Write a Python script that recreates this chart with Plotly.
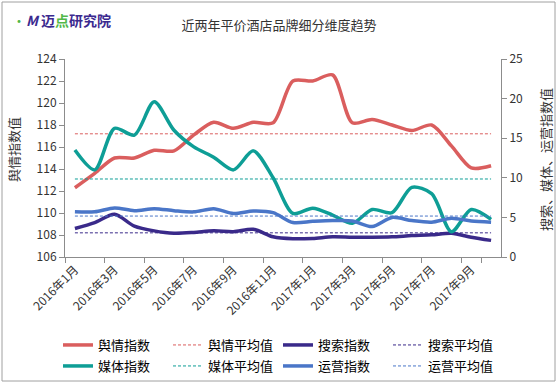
import plotly.graph_objects as go

# ---------------- data ----------------
months = ["2016年1月", "2016年2月", "2016年3月", "2016年4月", "2016年5月", "2016年6月",
          "2016年7月", "2016年8月", "2016年9月", "2016年10月", "2016年11月", "2016年12月",
          "2017年1月", "2017年2月", "2017年3月", "2017年4月", "2017年5月", "2017年6月",
          "2017年7月", "2017年8月", "2017年9月", "2017年10月"]

yuqing = [112.3, 113.6, 115.0, 115.0, 115.7, 115.65, 117.1, 118.25, 117.7, 118.25, 118.2,
          122.0, 122.0, 122.55, 118.2, 118.5, 118.0, 117.5, 118.0, 116.1, 114.1, 114.3]
meiti = [13.5, 11.0, 16.25, 15.4, 19.6, 16.0, 13.9, 12.6, 11.0, 13.4, 10.0,
         5.5, 6.15, 5.3, 4.25, 6.0, 5.6, 8.8, 8.0, 3.2, 6.0, 4.75]
sousuo = [3.6, 4.35, 5.4, 3.9, 3.3, 3.0, 3.1, 3.3, 3.2, 3.5, 2.55,
          2.3, 2.35, 2.55, 2.5, 2.5, 2.55, 2.7, 2.8, 3.0, 2.5, 2.1]
yunying = [5.7, 5.7, 6.2, 5.85, 6.1, 5.85, 5.7, 6.1, 5.5, 5.8, 5.6,
           4.35, 4.5, 4.6, 4.55, 3.85, 5.0, 4.6, 4.4, 4.9, 4.55, 4.4]

yuqing_avg = 117.2
meiti_avg = 9.85
sousuo_avg = 3.05
yunying_avg = 5.17

tick_labels = months[::2]

# ---------------- style ----------------
FONT = "Noto Sans CJK SC, Microsoft YaHei, sans-serif"
RED = "#DA5E5E"
TEAL = "#0E9E96"
PURPLE = "#3A2A8A"
BLUE = "#4A76C8"
AXIS = "#8C8C8C"
TXT = "#333333"

W, H = 558, 384
L, R, T, B = 65, 501, 59, 257
PW, PH = R - L, B - T


def px(x):
    return (x - L) / PW


def py(y):
    return (B - y) / PH


fig = go.Figure()

main = [
    ("舆情指数", yuqing, RED, "y", "legend"),
    ("搜索指数", sousuo, PURPLE, "y2", "legend"),
    ("媒体指数", meiti, TEAL, "y2", "legend2"),
    ("运营指数", yunying, BLUE, "y2", "legend2"),
]
avgs = {
    "舆情指数": ("舆情平均值", yuqing_avg),
    "搜索指数": ("搜索平均值", sousuo_avg),
    "媒体指数": ("媒体平均值", meiti_avg),
    "运营指数": ("运营平均值", yunying_avg),
}

for name, vals, col, yax, leg in main:
    aname, aval = avgs[name]
    fig.add_trace(go.Scatter(
        x=months, y=vals, name=name, mode="lines", yaxis=yax, legend=leg,
        line=dict(color=col, width=3.5, shape="spline", smoothing=0.8),
    ))
    fig.add_trace(go.Scatter(
        x=months, y=[aval] * len(months), name=aname, mode="lines", yaxis=yax, legend=leg,
        line=dict(color=col, width=1, dash="3px,2px"),
    ))

axis_common = dict(
    showgrid=False, zeroline=False, showline=True, linecolor=AXIS, linewidth=1,
    ticks="outside", ticklen=5, tickcolor=AXIS, automargin=False,
    tickfont=dict(family=FONT, size=12, color=TXT),
)

legend_common = dict(
    orientation="h", xanchor="left", yanchor="top",
    entrywidth=65, entrywidthmode="pixels", traceorder="normal",
    font=dict(family=FONT, size=13, color="#000"), bgcolor="rgba(0,0,0,0)",
)

fig.update_layout(
    width=W, height=H,
    margin=dict(l=L, r=W - R, t=T, b=H - B, autoexpand=False),
    paper_bgcolor="white", plot_bgcolor="white",
    font=dict(family=FONT, color=TXT),
    title=dict(text="近两年平价酒店品牌细分维度趋势", x=279 / W, xanchor="center",
               y=1 - 25 / H, yanchor="middle",
               font=dict(family=FONT, size=13, color=TXT)),
    xaxis=dict(
        type="category", categoryorder="array", categoryarray=months,
        tickmode="array", tickvals=tick_labels, ticktext=tick_labels,
        tickson="boundaries", tickangle=-45, range=[-0.5, len(months) - 0.5],
        **axis_common,
    ),
    yaxis=dict(range=[106, 124], dtick=2, **axis_common),
    yaxis2=dict(range=[0, 25], dtick=5, overlaying="y", side="right", **axis_common),
    legend=dict(x=px(58), y=py(330), **legend_common),
    legend2=dict(x=px(58), y=py(351), **legend_common),
    showlegend=True,
)

fig.add_annotation(text="舆情指数值", xref="paper", yref="paper", x=px(13), y=py(150),
                   textangle=-90, showarrow=False, xanchor="center", yanchor="middle",
                   font=dict(family=FONT, size=13, color=TXT))
fig.add_annotation(text="搜索、媒体、运营指数值", xref="paper", yref="paper", x=px(545), y=py(160),
                   textangle=-90, showarrow=False, xanchor="center", yanchor="middle",
                   font=dict(family=FONT, size=13, color=TXT))
fig.add_annotation(
    text="<span style='color:#52B848'>·</span><b><i>M</i></b> <b>迈<span style='color:#52B848'>点</span>研究院</b>",
    xref="paper", yref="paper", x=px(10), y=py(20), xanchor="left", yanchor="middle",
    showarrow=False, font=dict(family=FONT, size=14, color="#3B2A8F"))

fig.add_shape(type="rect", xref="paper", yref="paper",
              x0=px(2), x1=px(555), y0=py(381), y1=py(2),
              line=dict(color="#A0A0A0", width=1), fillcolor="rgba(0,0,0,0)", layer="below")

fig.write_html("out.html", config={"displayModeBar": False},
               post_script="document.body.style.margin='0';document.body.style.overflow='hidden';")
